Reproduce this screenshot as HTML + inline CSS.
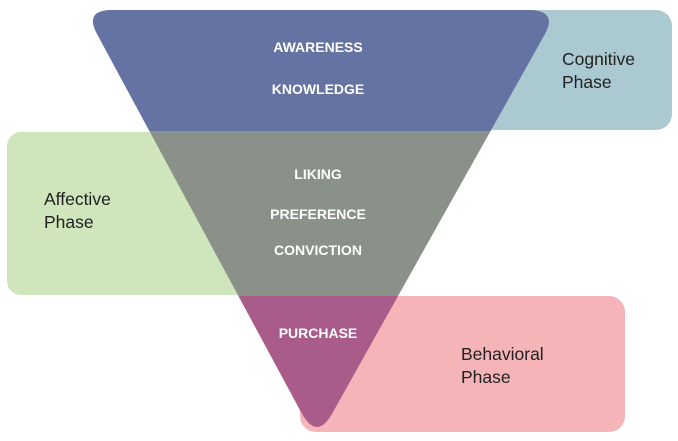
<!DOCTYPE html>
<html><head><style>
html,body{margin:0;padding:0;background:#fff;width:678px;height:441px;overflow:hidden}
svg text{font-family:"Liberation Sans",sans-serif}
</style></head><body>
<svg width="678" height="441" viewBox="0 0 678 441" xmlns="http://www.w3.org/2000/svg">
<defs>
<clipPath id="tri"><path d="M112,10 L528,10 Q558,10 545,34 L333,412 Q317,442 301,412 L97,34 Q84,10 112,10 Z"/></clipPath>
</defs>
<rect x="440" y="10" width="232" height="120" rx="16" fill="#abc9d1"/>
<rect x="7" y="132" width="250" height="163" rx="14" fill="#cfe5bc"/>
<rect x="300" y="296" width="325" height="136" rx="16" fill="#f4b4b8"/>
<g clip-path="url(#tri)">
<rect x="0" y="0" width="678" height="131" fill="#6573a3"/>
<rect x="0" y="131" width="678" height="165" fill="#8a9189"/>
<rect x="0" y="296" width="678" height="150" fill="#a95b89"/>
</g>
<g fill="#fff" font-weight="bold" font-size="14" text-anchor="middle">
<text x="318" y="52">AWARENESS</text>
<text x="318" y="94">KNOWLEDGE</text>
<text x="318" y="179">LIKING</text>
<text x="318" y="219">PREFERENCE</text>
<text x="318" y="255">CONVICTION</text>
<text x="318" y="338">PURCHASE</text>
</g>
<g fill="#222" font-size="17.5">
<text x="562" y="65">Cognitive</text>
<text x="562" y="88">Phase</text>
<text x="44" y="205">Affective</text>
<text x="44" y="228">Phase</text>
<text x="461" y="360">Behavioral</text>
<text x="461" y="383">Phase</text>
</g>
</svg>
</body></html>
